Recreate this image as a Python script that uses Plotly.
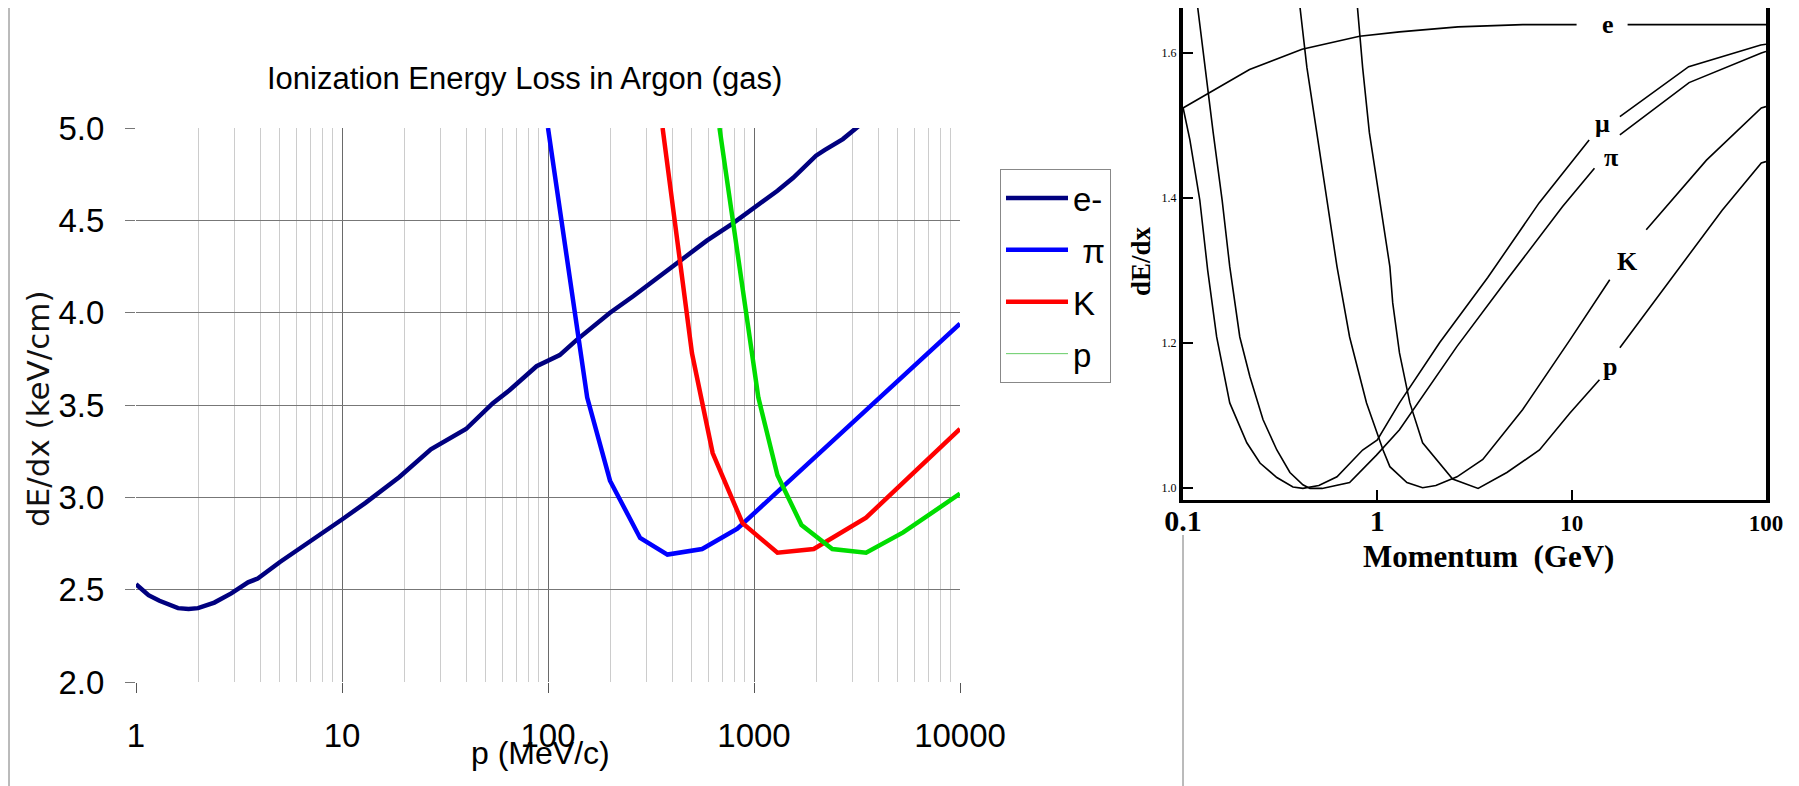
import plotly.graph_objects as go
import math

W, H = 1799, 786
OFF = 8  # page body margin of the rendered html

# ---------------- Left chart data (p in MeV/c, dE/dx in keV/cm) ----------------
e_p = [1, 1.15, 1.3, 1.6, 1.8, 2.0, 2.4, 2.9, 3.5, 3.9, 5, 7, 10, 13, 16, 19, 27, 40, 54, 65,
       88, 114, 137, 200, 260, 350, 450, 590, 780, 980, 1300, 1550, 2000, 2200, 2700, 3300]
e_y = [2.53, 2.47, 2.44, 2.40, 2.395, 2.40, 2.43, 2.48, 2.54, 2.56, 2.65, 2.76, 2.88, 2.97, 3.05, 3.11,
       3.26, 3.37, 3.51, 3.58, 3.71, 3.77, 3.85, 4.00, 4.09, 4.20, 4.29, 4.39, 4.48, 4.56, 4.66,
       4.73, 4.85, 4.88, 4.94, 5.02]

pi_p = [100, 155, 200, 280, 380, 560, 830, 10000]
pi_y = [5.0, 3.54, 3.09, 2.78, 2.69, 2.72, 2.83, 3.94]

k_p = [360, 500, 630, 880, 1300, 1950, 3500, 10000]
k_y = [5.0, 3.78, 3.24, 2.86, 2.70, 2.72, 2.89, 3.37]

pr_p = [680, 1050, 1300, 1700, 2400, 3500, 5300, 10000]
pr_y = [5.0, 3.54, 3.12, 2.85, 2.72, 2.70, 2.81, 3.02]

left_xticks = [1, 10, 100, 1000, 10000]
left_xticktext = ["1", "10", "100", "1000", "10000"]

# ---------------- Right chart data (p in GeV, relative dE/dx) ----------------
e2_p = [0.1, 0.138, 0.22, 0.41, 0.81, 1.3, 2.6, 5.6, 10.6, None, 19.4, 100]
e2_y = [1.524, 1.546, 1.577, 1.605, 1.623, 1.629, 1.636, 1.639, 1.639, None, 1.639, 1.639]

mu_p = [0.1, 0.1085, 0.122, 0.134, 0.149, 0.174, 0.213, 0.249, 0.304, 0.368, 0.414, 0.5, 0.62,
        0.84, 1.0, 1.3, 2.09, 3.7, 6.8, 12.3, None, 17.7, 40, 94, 100]
mu_y = [1.525, 1.48, 1.397, 1.30, 1.208, 1.117, 1.062, 1.034, 1.014, 1.001, 0.999, 1.003, 1.015,
        1.052, 1.066, 1.117, 1.20, 1.29, 1.393, 1.48, None, 1.512, 1.581, 1.611, 1.612]

pi2_p = [0.119, 0.1297, 0.143, 0.159, 0.174, 0.196, 0.221, 0.258, 0.304, 0.355, 0.414, 0.45, 0.52,
         0.72, 0.99, 1.3, 2.57, 4.64, 8.98, 13.1, None, 17.7, 40.2, 94.6, 100]
pi2_y = [1.663, 1.58, 1.49, 1.397, 1.305, 1.208, 1.153, 1.094, 1.052, 1.021, 1.004, 0.999, 0.999,
         1.007, 1.045, 1.08, 1.195, 1.287, 1.388, 1.441, None, 1.487, 1.559, 1.600, 1.602]

k2_p = [0.4, 0.434, 0.488, 0.55, 0.62, 0.72, 0.88, 1.07, 1.16, 1.42, 1.71, 2.0, 2.57, 3.49, 5.6,
        9.8, 15.7, None, 24.2, 49.4, 94.6, 100]
k2_y = [1.663, 1.58, 1.49, 1.397, 1.305, 1.208, 1.117, 1.052, 1.029, 1.007, 1.0, 1.003, 1.015,
        1.039, 1.108, 1.204, 1.287, None, 1.356, 1.452, 1.524, 1.526]

p2_p = [0.79, 0.84, 0.91, 1.03, 1.16, 1.2, 1.3, 1.47, 1.71, 2.44, 3.3, 4.64, 6.83, 9.8, 13.9,
        None, 17.7, 34.9, 59.5, 94.6, 100]
p2_y = [1.663, 1.58, 1.49, 1.397, 1.305, 1.255, 1.186, 1.117, 1.062, 1.012, 0.999, 1.021, 1.052,
        1.103, 1.149, None, 1.193, 1.30, 1.383, 1.448, 1.45]

curve_labels = ["e", "μ", "π", "K", "p"]
label_p = [15.3, 14.4, 16.0, 19.4, 15.7]
label_y = [1.639, 1.503, 1.455, 1.312, 1.167]

right_xticks = [0.1, 1, 10, 100]
right_yticks = [1.0, 1.2, 1.4, 1.6]


def px(v):
    return (v - OFF) / W


def py(v):
    return 1 - (v - OFF) / H


fig = go.Figure()

lw = 4.5
fig.add_trace(go.Scatter(x=e_p, y=e_y, mode="lines", name="e-", legendgroup="e",
                         line=dict(color="#00007f", width=lw), xaxis="x", yaxis="y"))
fig.add_trace(go.Scatter(x=pi_p, y=pi_y, mode="lines", name="\u00a0π", legendgroup="pi",
                         line=dict(color="#0000ff", width=lw), xaxis="x", yaxis="y"))
fig.add_trace(go.Scatter(x=k_p, y=k_y, mode="lines", name="K", legendgroup="k",
                         line=dict(color="#ff0000", width=lw), xaxis="x", yaxis="y"))
fig.add_trace(go.Scatter(x=pr_p, y=pr_y, mode="lines", name="p", legendgroup="p", showlegend=False,
                         line=dict(color="#00dd00", width=lw), xaxis="x", yaxis="y"))
# legend entry for p drawn thin as in the original
fig.add_trace(go.Scatter(x=[None], y=[None], mode="lines", name="p", legendgroup="p",
                         line=dict(color="#66cc66", width=1), xaxis="x", yaxis="y"))

for xs, ys in [(e2_p, e2_y), (mu_p, mu_y), (pi2_p, pi2_y), (k2_p, k2_y), (p2_p, p2_y)]:
    fig.add_trace(go.Scatter(x=xs, y=ys, mode="lines", showlegend=False,
                             line=dict(color="black", width=1.6), xaxis="x2", yaxis="y2"))

annotations = [
    dict(text="Ionization Energy Loss in Argon (gas)", x=px(524), y=py(79), xref="paper", yref="paper",
         showarrow=False, xanchor="center", yanchor="middle",
         font=dict(family="Liberation Sans", size=31, color="black")),
    dict(text="dE/dx (keV/cm)", x=px(38), y=py(409), xref="paper", yref="paper", textangle=-90,
         showarrow=False, xanchor="center", yanchor="middle",
         font=dict(family="DejaVu Sans", size=31, color="#111")),
    dict(text="p (MeV/c)", x=px(540), y=py(753), xref="paper", yref="paper",
         showarrow=False, xanchor="center", yanchor="middle",
         font=dict(family="Liberation Sans", size=32, color="black")),
    dict(text="Momentum\u00a0 (GeV)", x=px(1488), y=py(556), xref="paper", yref="paper",
         showarrow=False, xanchor="center", yanchor="middle",
         font=dict(family="Liberation Serif", size=31, color="black", weight="bold")),
    dict(text="dE/dx", x=px(1141), y=py(261), xref="paper", yref="paper", textangle=-90,
         showarrow=False, xanchor="center", yanchor="middle",
         font=dict(family="Liberation Serif", size=27, color="black", weight="bold")),
]
for t, xv, yv in zip(curve_labels, label_p, label_y):
    annotations.append(dict(text=t, x=math.log10(xv), y=yv, xref="x2", yref="y2", showarrow=False,
                            xanchor="center", yanchor="middle",
                            font=dict(family="Liberation Serif", size=26, color="black", weight="bold")))

shapes = [
    dict(type="line", xref="paper", yref="paper", x0=px(9), x1=px(9), y0=py(7), y1=py(786),
         line=dict(color="#777", width=1)),
    dict(type="line", xref="paper", yref="paper", x0=px(1183), x1=px(1183), y0=py(535), y1=py(786),
         line=dict(color="#777", width=1)),
]

fig.update_layout(
    template="none",
    width=W, height=H, autosize=False,
    margin=dict(l=0, r=0, t=0, b=0, pad=0, autoexpand=False),
    paper_bgcolor="white", plot_bgcolor="white",
    showlegend=True,
    legend=dict(x=px(1000), y=py(169), xanchor="left", yanchor="top",
                bordercolor="#888", borderwidth=1, bgcolor="white",
                font=dict(family="Liberation Sans", size=33, color="black"),
                tracegroupgap=6, itemwidth=62, traceorder="grouped"),
    xaxis=dict(type="log", range=[0, 4], domain=[px(136), px(960)], anchor="y", automargin=False,
               tickvals=left_xticks, ticktext=left_xticktext,
               showgrid=True, gridcolor="#6a6a6a", gridwidth=1,
               minor=dict(dtick="D1", showgrid=True, gridcolor="#cccccc", gridwidth=1, ticks=""),
               ticks="outside", ticklen=10, tickcolor="#555", zeroline=False, showline=False,
               tickfont=dict(family="Liberation Sans", size=33, color="black"),
               ticklabelstandoff=14),
    yaxis=dict(range=[2, 5], domain=[py(682), py(128)], anchor="x", dtick=0.5, tickformat=".1f",
               automargin=False,
               showgrid=True, gridcolor="#777", gridwidth=1, zeroline=False, showline=False,
               ticks="outside", ticklen=10, tickcolor="#777",
               tickfont=dict(family="Liberation Sans", size=33, color="black"),
               ticklabelstandoff=14),
    xaxis2=dict(type="log", range=[-1, 2], domain=[px(1183), px(1766)], anchor="y2", automargin=False,
                tickvals=right_xticks,
                ticktext=["<span style='font-size:30px'>0.1</span>", "<span style='font-size:30px'>1</span>",
                          "10", "100"],
                showgrid=False, zeroline=False, showline=True, linewidth=3, linecolor="black", mirror=True,
                ticks="inside", ticklen=10, tickwidth=2, tickcolor="black",
                tickfont=dict(family="Liberation Serif", size=23, color="black", weight="bold")),
    yaxis2=dict(range=[0.983, 1.662], domain=[py(500), 1.0], anchor="x2", automargin=False,
                tickvals=right_yticks, ticktext=["1.0", "1.2", "1.4", "1.6"],
                showgrid=False, zeroline=False, showline=True, linewidth=4, linecolor="black", mirror=True,
                ticks="inside", ticklen=10, tickwidth=2, tickcolor="black",
                tickfont=dict(family="Liberation Serif", size=12, color="black")),
    annotations=annotations,
    shapes=shapes,
)

fig.write_html("out.html")
